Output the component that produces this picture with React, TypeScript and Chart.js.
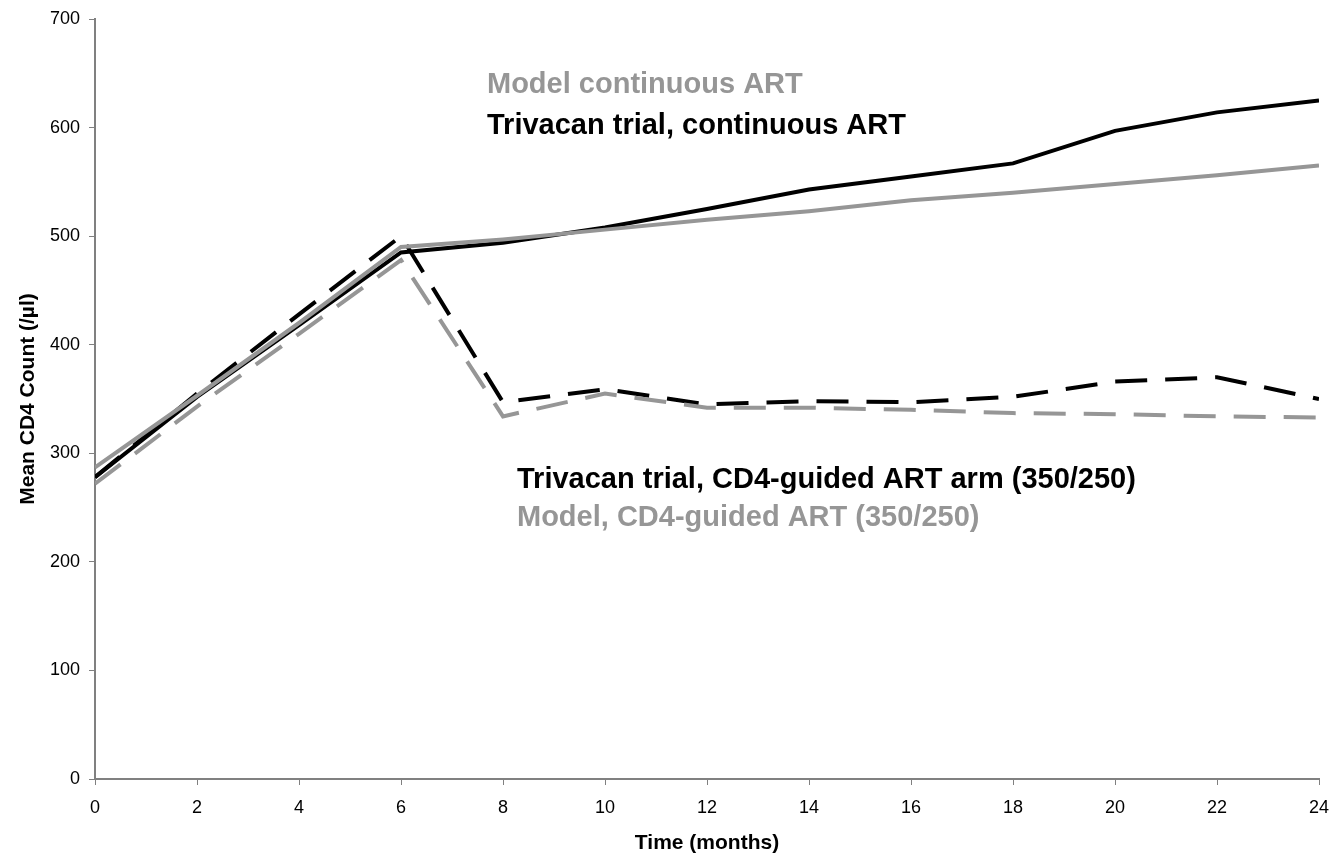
import React, { useEffect, useRef } from "react";
import { Chart, registerables } from "chart.js";

Chart.register(...registerables);

const months = [0, 2, 4, 6, 8, 10, 12, 14, 16, 18, 20, 22, 24];
const trialContinuous = [278, 352, 418, 485, 494, 508, 525, 543, 555, 567, 597, 614, 625];
const modelContinuous = [287, 353, 420, 490, 497, 506, 515, 523, 533, 540, 548, 556, 565];
const trialGuided = [278, 355, 428, 500, 347, 359, 345, 348, 347, 352, 366, 370, 350];
const modelGuided = [272, 343, 410, 478, 334, 355, 342, 342, 340, 337, 336, 334, 333];

const yTicks = [0, 100, 200, 300, 400, 500, 600, 700];
const xTicks = [0, 2, 4, 6, 8, 10, 12, 14, 16, 18, 20, 22, 24];

const labelTexts = [
  "Model continuous ART",
  "Trivacan trial, continuous ART",
  "Trivacan trial, CD4-guided ART arm (350/250)",
  "Model, CD4-guided ART (350/250)",
];

const GRAY = "#969696";
const BLACK = "#000000";
const AXIS = "#808080";
const FONT = "'Liberation Sans', Arial, Helvetica, sans-serif";

const annotations = [
  { text: labelTexts[0], x: 487, y: 93, color: GRAY },
  { text: labelTexts[1], x: 487, y: 134, color: BLACK },
  { text: labelTexts[2], x: 517, y: 488, color: BLACK },
  { text: labelTexts[3], x: 517, y: 526, color: GRAY },
];

const annotationPlugin = {
  id: "textAnnotations",
  afterDatasetsDraw(chart: any) {
    const ctx = chart.ctx;
    ctx.save();
    ctx.font = `bold 29px ${FONT}`;
    ctx.textBaseline = "alphabetic";
    ctx.textAlign = "left";
    for (const a of annotations) {
      ctx.fillStyle = a.color;
      ctx.fillText(a.text, a.x, a.y);
    }
    ctx.restore();
  },
};

function toPoints(values: number[]) {
  return months.map((m, i) => ({ x: m, y: values[i] }));
}

export default function App() {
  const canvasRef = useRef<HTMLCanvasElement | null>(null);

  useEffect(() => {
    if (!canvasRef.current) return;
    const chart = new Chart(canvasRef.current, {
      type: "line",
      data: {
        datasets: [
          {
            label: "Model continuous ART",
            data: toPoints(modelContinuous),
            borderColor: GRAY,
            borderWidth: 4,
            pointRadius: 0,
            order: 1,
          },
          {
            label: "Trivacan trial, continuous ART",
            data: toPoints(trialContinuous),
            borderColor: BLACK,
            borderWidth: 4,
            pointRadius: 0,
            order: 2,
          },
          {
            label: "Model, CD4-guided ART (350/250)",
            data: toPoints(modelGuided),
            borderColor: GRAY,
            borderWidth: 4,
            borderDash: [32, 18],
            borderCapStyle: "butt",
            pointRadius: 0,
            order: 3,
          },
          {
            label: "Trivacan trial, CD4-guided ART arm (350/250)",
            data: toPoints(trialGuided),
            borderColor: BLACK,
            borderWidth: 4,
            borderDash: [32, 18],
            borderCapStyle: "butt",
            pointRadius: 0,
            order: 4,
          },
        ],
      },
      options: {
        responsive: false,
        animation: false,
        layout: { padding: { top: 19, right: 14, left: 0, bottom: 0 } },
        plugins: {
          legend: { display: false },
          tooltip: { enabled: false },
        },
        elements: { line: { tension: 0, borderJoinStyle: "miter" } },
        scales: {
          x: {
            type: "linear",
            min: 0,
            max: 24,
            afterFit: (scale: any) => {
              scale.height = 75;
              scale.paddingLeft = 0;
              scale.paddingRight = 0;
            },
            afterBuildTicks: (scale: any) => {
              scale.ticks = xTicks.map((v) => ({ value: v }));
            },
            ticks: {
              color: BLACK,
              font: { family: FONT, size: 18 },
              padding: 12,
              maxRotation: 0,
            },
            grid: {
              drawOnChartArea: false,
              drawTicks: true,
              tickLength: 6,
              color: AXIS,
              lineWidth: 1,
            },
            border: { color: AXIS, width: 2 },
            title: {
              display: true,
              text: "Time (months)",
              color: BLACK,
              font: { family: FONT, size: 21, weight: "bold" },
              padding: { top: 0, bottom: -2 },
            },
          },
          y: {
            type: "linear",
            min: 0,
            max: 700,
            afterFit: (scale: any) => {
              scale.width = 95;
              scale.paddingTop = 0;
              scale.paddingBottom = 0;
            },
            afterBuildTicks: (scale: any) => {
              scale.ticks = yTicks.map((v) => ({ value: v }));
            },
            ticks: {
              color: BLACK,
              font: { family: FONT, size: 18 },
              padding: 9,
            },
            grid: {
              drawOnChartArea: false,
              drawTicks: true,
              tickLength: 6,
              color: AXIS,
              lineWidth: 1,
            },
            border: { color: AXIS, width: 2 },
            title: {
              display: true,
              text: "Mean CD4 Count (/µl)",
              color: BLACK,
              font: { family: FONT, size: 21, weight: "bold" },
              padding: { top: 16, bottom: 0 },
            },
          },
        },
      },
      plugins: [annotationPlugin],
    } as any);
    return () => chart.destroy();
  }, []);

  return (
    <div style={{ position: "fixed", left: 0, top: 0, width: 1333, height: 854, background: "#fff" }}>
      <canvas ref={canvasRef} width={1333} height={854} style={{ display: "block" }} />
    </div>
  );
}
